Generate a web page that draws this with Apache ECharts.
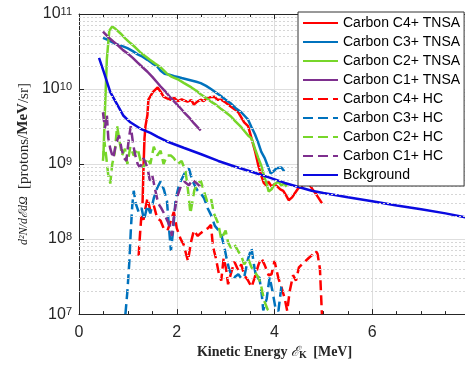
<!DOCTYPE html>
<html><head><meta charset="utf-8">
<script src="https://cdn.jsdelivr.net/npm/echarts@6/dist/echarts.min.js"></script>
<style>html,body{margin:0;padding:0;overflow:hidden;background:#fff;}#c{width:472px;height:365px;}</style>
</head><body><div id="c"></div><script>
const seriesNames = ['Carbon C4+ TNSA','Carbon C3+ TNSA','Carbon C2+ TNSA','Carbon C1+ TNSA','Carbon C4+ HC','Carbon C3+ HC','Carbon C2+ HC','Carbon C1+ HC','Bckground'];
const xTicks = [0, 2, 4, 6, 8];
const yTicks = [1e7, 1e8, 1e9, 1e10, 1e11];

const c4Tnsa = [[1.30,3.0e8],[1.32,9e8],[1.34,2.2e9],[1.36,3.2e9],[1.40,4.5e9],[1.42,7.2e9],[1.46,8.0e9],[1.51,9.1e9],[1.55,9.5e9],[1.61,1.05e10],[1.67,9.2e9],[1.73,7.9e9],[1.80,7.5e9],[1.88,7.2e9],[1.95,7.6e9],[2.02,6.9e9],[2.10,7.3e9],[2.16,7.0e9],[2.22,6.8e9],[2.30,7.1e9],[2.35,6.2e9],[2.42,6.8e9],[2.49,7.2e9],[2.55,6.9e9],[2.62,7.6e9],[2.70,7.8e9],[2.77,7.9e9],[2.83,7.2e9],[2.91,7.2e9],[3.00,6.6e9],[3.11,5.8e9],[3.18,5.4e9],[3.26,4.9e9],[3.38,3.6e9],[3.46,3.2e9],[3.53,2.2e9],[3.60,1.5e9],[3.67,9.5e8],[3.73,7.0e8],[3.78,5.6e8],[3.83,5.2e8],[3.88,5.8e8],[3.94,5.0e8],[4.00,5.4e8],[4.06,5.0e8],[4.12,4.6e8],[4.18,4.4e8],[4.24,3.8e8],[4.29,3.3e8],[4.36,3.6e8],[4.43,4.2e8],[4.49,4.8e8],[4.57,5.0e8],[4.64,5.4e8],[4.70,5.5e8],[4.78,4.6e8],[4.87,3.8e8],[4.93,3.3e8],[4.97,3.0e8]];
const c3Tnsa = [[0.49,4.8e10],[0.60,4.5e10],[0.75,4.0e10],[0.90,3.7e10],[0.99,3.5e10],[1.10,3.2e10],[1.20,2.9e10],[1.30,2.7e10],[1.40,2.45e10],[1.50,2.2e10],[1.60,2.0e10],[1.67,1.75e10],[1.75,1.6e10],[1.85,1.55e10],[1.95,1.48e10],[2.02,1.45e10],[2.10,1.4e10],[2.20,1.35e10],[2.30,1.3e10],[2.40,1.25e10],[2.49,1.2e10],[2.60,1.1e10],[2.70,1.0e10],[2.80,9.0e9],[2.91,8.0e9],[3.00,7.2e9],[3.11,6.4e9],[3.20,5.6e9],[3.32,4.9e9],[3.40,4.3e9],[3.46,3.9e9],[3.53,3.1e9],[3.60,2.5e9],[3.67,1.9e9],[3.73,1.45e9],[3.80,1.2e9],[3.86,9.5e8],[3.92,7.5e8],[3.98,8.0e8],[4.04,8.8e8],[4.08,9.2e8],[4.14,9.0e8],[4.20,8.0e8]];
const c2Tnsa = [[0.50,1.3e9],[0.53,5e9],[0.57,2.5e10],[0.62,6.0e10],[0.68,6.8e10],[0.75,6.3e10],[0.85,5.5e10],[0.95,4.7e10],[1.05,4.1e10],[1.15,3.6e10],[1.25,3.1e10],[1.35,2.75e10],[1.45,2.45e10],[1.55,2.2e10],[1.67,1.95e10],[1.80,1.6e10],[1.90,1.45e10],[2.02,1.35e10],[2.15,1.2e10],[2.30,1.05e10],[2.40,9.5e9],[2.49,8.5e9],[2.60,7.6e9],[2.70,6.8e9],[2.80,6.2e9],[2.91,5.4e9],[3.00,4.9e9],[3.11,4.3e9],[3.20,3.7e9],[3.32,3.1e9],[3.46,2.4e9],[3.53,2.2e9],[3.60,1.6e9],[3.67,1.2e9],[3.73,9.5e8],[3.80,6.5e8],[3.85,5.2e8],[3.88,4.3e8],[3.94,4.6e8],[4.00,5.4e8],[4.08,5.8e8],[4.14,5.2e8],[4.20,5.5e8],[4.25,5.0e8]];
const c1Tnsa = [[0.49,5.8e10],[0.60,4.9e10],[0.70,4.3e10],[0.80,3.8e10],[0.90,3.3e10],[0.99,3.0e10],[1.10,2.6e10],[1.20,2.25e10],[1.30,1.95e10],[1.40,1.7e10],[1.50,1.45e10],[1.60,1.22e10],[1.67,1.08e10],[1.75,9.5e9],[1.85,8.0e9],[1.95,6.8e9],[2.05,5.8e9],[2.15,4.9e9],[2.25,4.2e9],[2.35,3.5e9],[2.49,2.8e9]];
const c4Hc = [[1.22,6.0e7],[1.25,1.2e8],[1.28,2.2e8],[1.32,1.8e8],[1.36,2.6e8],[1.40,3.5e8],[1.46,2.4e8],[1.53,2.8e8],[1.60,1.9e8],[1.67,1.75e8],[1.73,1.4e8],[1.81,1.3e8],[1.86,1.6e8],[1.94,2.3e8],[2.00,1.4e8],[2.08,1.0e8],[2.14,8.5e7],[2.20,6.0e7],[2.23,5.1e7],[2.29,9.0e7],[2.35,1.3e8],[2.43,1.1e8],[2.49,1.2e8],[2.56,1.3e8],[2.64,1.4e8],[2.70,1.55e8],[2.74,8.0e7],[2.80,5.6e7],[2.86,3.5e7],[2.91,2.8e7],[2.96,5.6e7],[3.01,4.0e7],[3.05,2.5e7],[3.11,3.5e7],[3.18,5.0e7],[3.26,3.8e7],[3.32,4.6e7],[3.38,3.3e7],[3.46,2.8e7],[3.53,2.3e7],[3.59,3.0e7],[3.67,4.5e7],[3.73,5.6e7],[3.80,4.5e7],[3.88,3.3e7],[3.94,3.4e7],[4.00,5.1e7],[4.08,3.0e7],[4.14,2.3e7],[4.21,1.6e7],[4.26,1.1e7],[4.31,2.0e7],[4.38,3.3e7],[4.44,2.8e7],[4.50,4.2e7],[4.56,4.6e7],[4.62,5.0e7],[4.70,5.6e7],[4.78,6.2e7],[4.84,7.0e7],[4.88,6.4e7],[4.93,4.0e7],[4.95,2.0e7],[4.97,1.0e7]];
const c3Hc = [[0.95,1.0e7],[0.99,2.0e7],[1.03,5.0e7],[1.06,1.3e8],[1.09,2.8e8],[1.12,4.4e8],[1.16,3.0e8],[1.22,2.3e8],[1.28,2.6e8],[1.33,1.8e8],[1.40,2.8e8],[1.46,2.2e8],[1.53,3.5e8],[1.60,4.8e8],[1.67,5.9e8],[1.74,4.5e8],[1.80,3.2e8],[1.85,1.2e8],[1.88,7.0e7],[1.92,1.2e8],[1.98,3.5e8],[2.04,5.0e8],[2.08,5.9e8],[2.16,7.5e8],[2.25,8.7e8],[2.32,6.0e8],[2.38,5.0e8],[2.43,4.4e8],[2.50,4.0e8],[2.56,3.5e8],[2.63,2.6e8],[2.70,2.1e8],[2.78,1.5e8],[2.86,1.3e8],[2.91,1.15e8],[2.97,8.0e7],[3.02,5.5e7],[3.07,4.0e7],[3.11,3.4e7],[3.18,3.1e7],[3.26,3.4e7],[3.32,3.0e7],[3.38,3.1e7],[3.46,5.5e7],[3.53,7.6e7],[3.58,4.5e7],[3.63,3.0e7],[3.69,3.1e7],[3.74,1.8e7],[3.77,1.12e7],[3.84,1.6e7],[3.90,3.1e7],[3.96,2.0e7],[4.02,1.2e7],[4.08,1.1e7],[4.14,2.3e7],[4.20,2.5e7]];
const c2Hc = [[0.49,1.1e9],[0.52,2.0e9],[0.56,1.2e9],[0.60,7.0e8],[0.64,5.5e8],[0.68,1.0e9],[0.73,1.4e9],[0.78,3.2e9],[0.83,2.0e9],[0.88,1.3e9],[0.94,1.6e9],[0.99,1.0e9],[1.05,1.7e9],[1.12,1.3e9],[1.20,1.6e9],[1.26,1.1e9],[1.32,9.0e8],[1.40,1.2e9],[1.46,1.0e9],[1.53,1.7e9],[1.60,1.3e9],[1.67,1.5e9],[1.73,1.0e9],[1.80,1.3e9],[1.88,1.3e9],[1.94,1.2e9],[2.02,1.0e9],[2.10,1.1e9],[2.18,8.0e8],[2.23,4.5e8],[2.28,2.2e8],[2.36,4.5e8],[2.43,5.5e8],[2.49,6.0e8],[2.55,4.5e8],[2.62,3.2e8],[2.70,3.5e8],[2.76,2.2e8],[2.85,1.6e8],[2.91,1.0e8],[3.00,1.3e8],[3.05,9.0e7],[3.11,7.6e7],[3.18,8.5e7],[3.25,7.0e7],[3.32,6.0e7],[3.38,4.6e7],[3.46,5.5e7],[3.53,4.2e7],[3.60,3.6e7],[3.67,3.1e7],[3.72,2.5e7],[3.79,1.5e7],[3.86,1.15e7],[3.94,1.0e7]];
const c1Hc = [[0.49,4.9e9],[0.53,3.0e9],[0.57,4.5e9],[0.60,2.2e9],[0.64,1.6e9],[0.70,1.2e9],[0.76,1.9e9],[0.82,2.4e9],[0.87,1.6e9],[0.92,1.2e9],[0.97,1.1e9],[1.02,2.2e9],[1.06,3.2e9],[1.10,2.0e9],[1.14,1.4e9],[1.20,1.0e9],[1.25,9.0e8],[1.32,1.2e9],[1.40,9.0e8],[1.45,6.0e8],[1.50,7.0e8],[1.56,4.5e8],[1.62,3.0e8],[1.68,2.6e8],[1.74,2.2e8],[1.80,1.8e8],[1.86,1.5e8],[1.90,1.1e8],[1.94,2.0e8],[2.00,3.5e8],[2.08,5.0e8],[2.16,5.8e8],[2.25,5.2e8],[2.32,6.2e8],[2.40,5.6e8],[2.48,5.0e8]];
const bck = [[0.41,2.6e10],[0.50,1.75e10],[0.64,9.1e9],[0.80,5.9e9],[0.91,4.4e9],[1.05,3.6e9],[1.26,2.95e9],[1.46,2.6e9],[1.61,2.3e9],[1.80,2.0e9],[2.14,1.65e9],[2.50,1.35e9],[2.85,1.1e9],[3.20,9.2e8],[3.53,7.9e8],[3.90,6.6e8],[4.21,5.6e8],[4.76,4.4e8],[5.00,4.1e8],[5.50,3.6e8],[6.00,3.2e8],[6.50,2.8e8],[7.00,2.5e8],[7.50,2.2e8],[8.00,1.9e8]];

const seriesData = [c4Tnsa, c3Tnsa, c2Tnsa, c1Tnsa, c4Hc, c3Hc, c2Hc, c1Hc, bck];
const seriesColors = ['#ff0000','#0072bd','#77d62a','#7e2f8e','#ff0000','#0072bd','#77d62a','#7e2f8e','#0a0ae0'];
const seriesDashed = [false,false,false,false,true,true,true,true,false];

const minorVals = [];
for (let e = 7; e < 11; e++) for (let m = 2; m <= 9; m++) minorVals.push(m * Math.pow(10, e));

const axisColor = '#262626';
const chart = echarts.init(document.getElementById('c'));
const series = [{
  name: '_minor', type: 'line', data: [], silent: true, z: 1,
  markLine: { silent: true, symbol: 'none', label: { show: false },
    lineStyle: { color: '#d6d6d6', type: [2, 2], width: 1 },
    animation: false,
    data: minorVals.map(v => ({ yAxis: v })) }
}];
seriesNames.forEach((n, i) => {
  series.push({
    name: n, type: 'line', data: seriesData[i], symbol: 'none', showSymbol: false,
    lineStyle: { color: seriesColors[i], width: 2.5, type: seriesDashed[i] ? [10, 5] : 'solid' },
    itemStyle: { color: seriesColors[i] },
    z: 2
  });
});

chart.setOption({
  animation: false,
  backgroundColor: '#fff',
  grid: { left: 79, right: 2, top: 14, bottom: 48 },
  legend: {
    z: 20,
    data: seriesNames, orient: 'vertical', left: 298, top: 12,
    itemWidth: 35, itemHeight: 14, itemGap: 5, padding: [4, 4, 4, 4],
    backgroundColor: '#fff', borderColor: '#333', borderWidth: 1,
    itemStyle: { color: 'rgba(0,0,0,0)', borderWidth: 0, opacity: 0 },
    textStyle: { fontFamily: 'Liberation Sans', fontSize: 14, color: '#000' },
    selectedMode: false
  },
  xAxis: [{
    type: 'value', min: 0, max: 8, interval: 2,
    axisLine: { show: true, onZero: false, lineStyle: { color: axisColor } },
    axisTick: { show: true, inside: true, length: 5, lineStyle: { color: axisColor } },
    minorTick: { show: true, splitNumber: 4, length: 3, lineStyle: { color: axisColor } },
    splitLine: { show: true, lineStyle: { color: '#dedede', width: 1 } },
    axisLabel: { showMaxLabel: false, margin: 10, fontFamily: 'Liberation Sans', fontSize: 16, color: axisColor },
    name: '{t|Kinetic Energy }{e|ℰ}{k|K}{t| [MeV]}',
    nameLocation: 'middle', nameGap: 26,
    nameTextStyle: { rich: {
      t: { fontFamily: 'Liberation Serif', fontWeight: 'bold', fontSize: 14, color: axisColor },
      e: { fontFamily: 'DejaVu Serif', fontStyle: 'italic', fontSize: 14, color: axisColor },
      k: { fontFamily: 'Liberation Serif', fontWeight: 'bold', fontSize: 10, color: axisColor, verticalAlign: 'bottom', padding: [6, 3, 0, 0] }
    } }
  }, {
    type: 'value', min: 0, max: 8, interval: 2, position: 'top',
    axisLine: { show: true, onZero: false, lineStyle: { color: axisColor } },
    axisTick: { show: true, inside: true, length: 5, lineStyle: { color: axisColor } },
    minorTick: { show: true, splitNumber: 4, length: 3, lineStyle: { color: axisColor } },
    splitLine: { show: false }, axisLabel: { show: false }
  }],
  yAxis: {
    type: 'log', logBase: 10, min: yTicks[0], max: yTicks[yTicks.length - 1],
    axisLine: { show: true, onZero: false, lineStyle: { color: axisColor } },
    axisTick: { show: true, inside: true, length: 5, lineStyle: { color: axisColor } },
    splitLine: { show: true, lineStyle: { color: '#dedede', width: 1 } },
    axisLabel: {
      margin: 7,
      formatter: v => '{b|10}{s|' + Math.round(Math.log10(v)) + '}',
      rich: {
        b: { fontFamily: 'Liberation Sans', fontSize: 16, color: axisColor, lineHeight: 16, padding: [5, 0, 0, 0], verticalAlign: 'bottom' },
        s: { fontFamily: 'Liberation Sans', fontSize: 11, color: axisColor, lineHeight: 11, verticalAlign: 'top' }
      }
    },
    name: '{f|d²N/dℰdΩ}{m|  [protons/}{bb|MeV}{m|/sr]}',
    nameLocation: 'middle', nameGap: 46, nameRotate: 90,
    nameTextStyle: { rich: {
      f: { fontFamily: 'Liberation Serif', fontStyle: 'italic', fontSize: 12, color: axisColor },
      m: { fontFamily: 'Liberation Serif', fontSize: 15, color: axisColor },
      bb: { fontFamily: 'Liberation Serif', fontWeight: 'bold', fontSize: 15, color: axisColor }
    } }
  },
  series: series
});
</script></body></html>
